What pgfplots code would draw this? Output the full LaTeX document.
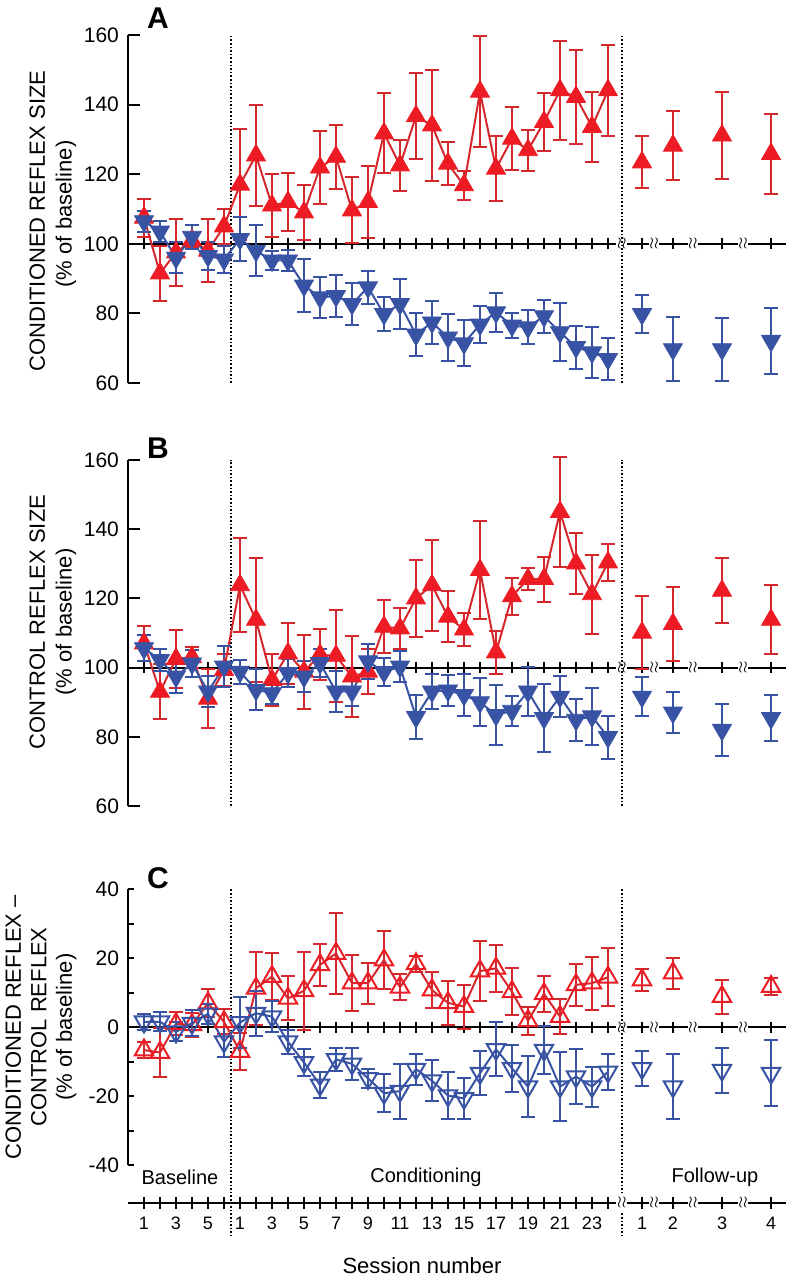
\documentclass[border=0pt]{standalone}
\usepackage{fontspec}
\setmainfont{Liberation Sans}
\usepackage{pgfplots}
\pgfplotsset{compat=1.18}
\usepackage{pgfplotstable}

\definecolor{cred}{RGB}{237,28,36}
\definecolor{cdred}{RGB}{214,40,44}
\definecolor{cblue}{RGB}{57,83,164}

\pgfplotstableread{
x r re b be
1 107.5 5.5 106.5 3
2 91.5 8 103.5 3
3 97.5 9.5 96 4.5
4 101 2 102 3.5
5 98 9 96.5 4
6 105 5 95.5 4
7 117 16 101.4 6.3
8 125.4 14.4 98 7.3
9 111 9 95.2 2.8
10 112 8.4 95.2 3.1
11 109 8 88 7.5
12 121.9 10.5 84.6 5.9
13 125 9.2 85 5.9
14 109.6 9.5 82.7 6.1
15 112 10.4 87.5 4.7
16 131.7 11.5 79.8 4.9
17 122.5 7.4 82.7 7.1
18 136.7 12.4 73.9 6.1
19 134 16 77.4 6.2
20 123 6.2 73.1 6.8
21 116.8 4.1 71.4 6.6
22 143.7 16 76.8 5.2
23 121.6 9.4 80.3 5.6
24 130.2 9.1 76.5 3.6
25 126.9 5.9 76 4.9
26 135 8.2 79.2 4.7
27 144.1 14.2 74.6 8.3
28 142.2 13.4 70.3 6.2
29 133.6 10 68.8 7.3
30 144.1 13 66.9 5.9
}\tA
\pgfplotstableread{
x r re b be
32.125 123.4 7.5 79.8 5.5
34.06 128.2 10 69.7 9.2
37.125 131.1 12.4 69.7 9
40.19 125.8 11.5 72.1 9.4
}\tAF
\pgfplotstableread{
x r re b be
1 107 5 105.6 3.8
2 93 8 102.2 3.3
3 102.5 8.5 97.4 4.8
4 103 3 101.2 4
5 91 8.5 93.1 4.5
6 99.3 4.5 100.3 5.8
7 123.8 13.6 98.8 3.5
8 113.8 18 93.6 6
9 96.4 7.6 92.6 3.2
10 104.1 8.9 98.4 4
11 98.8 10.7 97.4 4.4
12 103.7 7.4 101.3 4
13 103.4 13.3 93.1 6
14 97.4 11.7 93.1 4.2
15 98.8 6.5 101.8 5
16 111.8 7.6 98.7 4
17 111.3 5.9 100.3 4.5
18 120 11.2 85.7 6.4
19 123.8 13.1 93.1 5.1
20 114.7 7.3 93.4 4.5
21 111 4.7 92.1 6
22 128.2 14.2 90 6.9
23 104.4 6.2 86.3 8.7
24 120.6 5.3 87.5 4.3
25 125.6 3.3 93.1 7
26 125.6 6.5 85.4 9.8
27 145 15.8 91.6 6
28 130.1 8.8 84.9 6
29 121.2 11.4 85.9 8.2
30 130.4 5.4 79.9 6.2
}\tB
\pgfplotstableread{
x r re b be
32.125 110.1 10.5 91.6 5.6
34.06 112.6 10.8 87 6
37.125 122.2 9.4 82 7.5
40.19 113.8 10 85.4 6.6
}\tBF
\pgfplotstableread{
x r re b be
1 -6.6 2.2 1.6 2.3
2 -7.3 7.2 1.6 2.7
3 1 3.3 -1.3 2.8
4 0.7 3.4 1.2 3.8
5 7 4 3.9 3
6 1.6 3.6 -4.2 4.3
7 -7 5.3 1.4 7.5
8 11.3 10.6 4.1 6.5
9 14.7 6.8 3.1 4.5
10 8.4 6.4 -4.2 3.5
11 10.6 11.3 -10.2 4
12 18.1 6 -16.7 3.8
13 21.4 11.8 -9.3 3.3
14 12.8 8.2 -10.6 4.7
15 12.8 5.9 -14.8 2.8
16 19.5 8.5 -19.1 5.5
17 11.6 3.8 -18.5 8
18 18.4 2.3 -12.1 4.5
19 10.8 5.1 -15.5 6
20 7.1 6.3 -19.8 6.8
21 6 6.4 -20.6 6
22 16.3 8.6 -13.3 6.3
23 17.1 6.8 -6.4 7.8
24 10.3 6.8 -11.9 6.8
25 1.9 4.1 -17.2 8.9
26 9.7 5.3 -6.6 7
27 3.1 5 -17.2 10
28 12.3 6.1 -14.3 8
29 12.8 7.7 -17.2 5.8
30 14.5 8.4 -12.9 5.3
}\tC
\pgfplotstableread{
x r re b be
32.125 13.7 3.1 -11.9 5.1
34.06 15.7 4.5 -17.2 9.4
37.125 8.9 4.9 -12.4 6.5
40.19 11.8 2.5 -13.3 9.5
}\tCF

\pgfplotsset{
  panel/.style={scale only axis, width=329pt, anchor=south west,
    xmin=0, xmax=41.125, hide x axis, axis y line*=left, clip=false,
    tick align=inside, major tick length=6pt,
    axis line style={line width=1pt, black},
    every tick/.append style={line width=1pt, black},
    yticklabel style={font=\fontsize{10.5}{12}\selectfont, xshift=-1pt}},
  ebars/.style={error bars/y dir=both, error bars/y explicit,
    error bars/error bar style={line width=1pt, #1},
    error bars/error mark options={rotate=90, mark size=3.5pt, line width=1pt, #1}},
  rline/.style={color=cdred, line width=1pt, mark=triangle*, mark size=5.5pt,
    mark options={solid, fill=cred, draw=cred, line width=0.4pt}, ebars=cdred},
  bline/.style={color=cblue, line width=1pt, mark=triangle*, mark size=5.5pt,
    mark options={solid, rotate=180, fill=cblue, draw=cblue, line width=0.4pt}, ebars=cblue},
  rope/.style={color=cdred, line width=1pt, mark=triangle, mark size=5.3pt,
    mark options={solid, draw=cred, line width=1pt}, ebars=cdred},
  bope/.style={color=cblue, line width=1pt, mark=triangle, mark size=5.3pt,
    mark options={solid, rotate=180, draw=cblue, line width=1pt}, ebars=cblue},
}

\newcommand{\midline}[1]{%
  \draw[line width=1pt] (axis cs:0,#1) -- (axis cs:41.125,#1);
  \pgfplotsinvokeforeach{1,...,30,32.125,34.06,37.125,40.19}{%
    \draw[line width=1pt] ([yshift=-2.75pt]axis cs:##1,#1) -- ([yshift=2.75pt]axis cs:##1,#1);}
  \pgfplotsinvokeforeach{30.86,32.875,35.31,38.44}{%
    \node[fill=white, inner xsep=0.3pt, inner ysep=1pt, font=\fontsize{8.5}{8.5}\selectfont] at (axis cs:##1,#1) {$\wr\wr$};}
}

\begin{document}
\begin{tikzpicture}
\useasboundingbox (0,0) rectangle (394pt,640pt);

% Panel A
\begin{axis}[panel, at={(64pt,448.5pt)}, height=174pt, ymin=60, ymax=160,
  ytick={60,80,100,120,140,160}, yticklabels={60,80,100,120,140,160}]
\midline{100}
\draw[densely dotted, line width=0.8pt] (axis cs:6.44,60) -- (axis cs:6.44,160);
\draw[densely dotted, line width=0.8pt] (axis cs:30.86,60) -- (axis cs:30.86,160);
\addplot[rline] table[x=x, y=r, y error=re] {\tA};
\addplot[rline, only marks] table[x=x, y=r, y error=re] {\tAF};
\addplot[bline] table[x=x, y=b, y error=be] {\tA};
\addplot[bline, only marks] table[x=x, y=b, y error=be] {\tAF};
\end{axis}

% Panel B
\begin{axis}[panel, at={(64pt,237pt)}, height=173pt, ymin=60, ymax=160,
  ytick={60,80,100,120,140,160}, yticklabels={60,80,100,120,140,160}]
\midline{100}
\draw[densely dotted, line width=0.8pt] (axis cs:6.44,60) -- (axis cs:6.44,160);
\draw[densely dotted, line width=0.8pt] (axis cs:30.86,60) -- (axis cs:30.86,160);
\addplot[rline] table[x=x, y=r, y error=re] {\tB};
\addplot[rline, only marks] table[x=x, y=r, y error=re] {\tBF};
\addplot[bline] table[x=x, y=b, y error=be] {\tB};
\addplot[bline, only marks] table[x=x, y=b, y error=be] {\tBF};
\end{axis}

% Panel C
\begin{axis}[panel, at={(64pt,57.35pt)}, height=138pt, ymin=-40, ymax=40,
  ytick={-40,-20,0,20,40}, yticklabels={-40,-20,0,20,40},
  minor ytick={-30,-10,10,30}, major tick length=3pt, minor tick length=3pt]
\midline{0}
\draw[densely dotted, line width=0.8pt] (axis cs:6.44,40) -- (axis cs:6.44,-60.2);
\draw[densely dotted, line width=0.8pt] (axis cs:30.86,40) -- (axis cs:30.86,-60.2);
\addplot[rope] table[x=x, y=r, y error=re] {\tC};
\addplot[rope, only marks] table[x=x, y=r, y error=re] {\tCF};
\addplot[bope] table[x=x, y=b, y error=be] {\tC};
\addplot[bope, only marks] table[x=x, y=b, y error=be] {\tCF};
\end{axis}

% Bottom session axis
\begin{axis}[scale only axis, width=329pt, height=10pt, anchor=south west, at={(64pt,38.5pt)},
  xmin=0, xmax=41.125, ymin=0, ymax=1, hide y axis, axis x line*=bottom, clip=false,
  tick align=center, major tick length=6pt,
  axis line style={line width=1pt, black},
  every tick/.append style={line width=1pt, black},
  xtick={1,...,30,32.125,34.06,37.125,40.19},
  xticklabels={1,{},3,{},5,{},1,{},3,{},5,{},7,{},9,{},11,{},13,{},15,{},17,{},19,{},21,{},23,{},1,2,3,4},
  xticklabel style={font=\fontsize{9}{10}\selectfont, yshift=-0.5pt}]
\pgfplotsinvokeforeach{30.86,32.875,35.31,38.44}{%
  \node[fill=white, inner xsep=0.3pt, inner ysep=1pt, font=\fontsize{8.5}{8.5}\selectfont] at (axis cs:#1,0) {$\wr\wr$};}
\end{axis}

% Texts
\node[font=\bfseries\fontsize{15}{15}\selectfont] at (79pt,631pt) {A};
\node[rotate=90, font=\fontsize{11}{13}\selectfont] at (18.7pt,529.5pt) {CONDITIONED REFLEX SIZE};
\node[rotate=90, font=\fontsize{11}{13}\selectfont] at (33pt,533pt) {(\% of baseline)};
\node[font=\bfseries\fontsize{15}{15}\selectfont] at (79pt,416pt) {B};
\node[rotate=90, font=\fontsize{11}{13}\selectfont] at (18.7pt,329pt) {CONTROL REFLEX SIZE};
\node[rotate=90, font=\fontsize{11}{13}\selectfont] at (33pt,329pt) {(\% of baseline)};
\node[font=\bfseries\fontsize{15}{15}\selectfont] at (79pt,201pt) {C};
\node[rotate=90, align=center, font=\fontsize{11}{12.75}\selectfont] at (20.5pt,126.5pt) {CONDITIONED REFLEX –\\CONTROL REFLEX\\(\% of baseline)};
\node[font=\fontsize{10}{12}\selectfont] at (90pt,51.5pt) {Baseline};
\node[font=\fontsize{10}{12}\selectfont] at (213pt,51.5pt) {Conditioning};
\node[font=\fontsize{10}{12}\selectfont] at (357.5pt,51.5pt) {Follow-up};
\node[font=\fontsize{11}{13}\selectfont] at (211pt,7pt) {Session number};
\end{tikzpicture}
\end{document}
